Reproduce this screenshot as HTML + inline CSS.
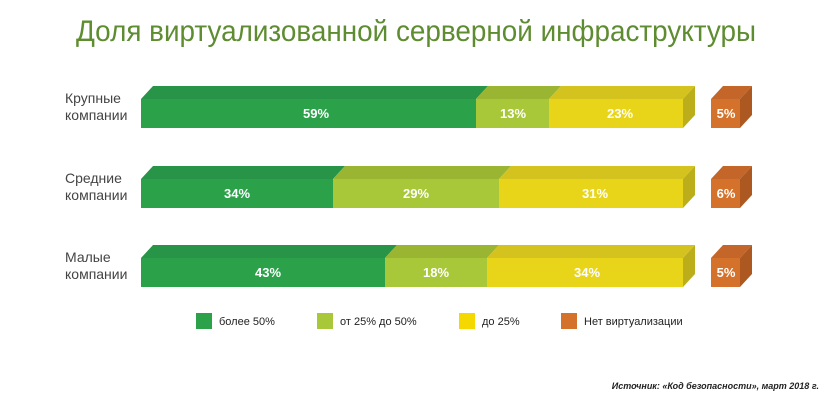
<!DOCTYPE html>
<html><head><meta charset="utf-8"><style>body{margin:0;background:#fff}svg{display:block}</style></head><body>
<svg width="830" height="400" xmlns="http://www.w3.org/2000/svg" font-family="Liberation Sans, sans-serif">
<rect width="830" height="400" fill="#fff"/>
<text x="76" y="41" font-size="30" fill="#5e8c30" textLength="680" lengthAdjust="spacingAndGlyphs">Доля виртуализованной серверной инфраструктуры</text>
<g id="r1">
<!-- tops -->
<polygon points="141,99 153,86 488,86 476,99" fill="#279447"/>
<polygon points="476,99 488,86 561,86 549,99" fill="#99b532"/>
<polygon points="549,99 561,86 695,86 683,99" fill="#d4c31f"/>
<polygon points="683,99 695,86 695,115 683,128" fill="#bcae1b"/>
<rect x="141" y="99" width="335" height="29" fill="#2ba24a"/>
<rect x="476" y="99" width="73" height="29" fill="#a8c83a"/>
<rect x="549" y="99" width="134" height="29" fill="#e8d51a"/>
<polygon points="711,99 723,86 752,86 740,99" fill="#c4662a"/>
<polygon points="740,99 752,86 752,115 740,128" fill="#ad5820"/>
<rect x="711" y="99" width="29" height="29" fill="#d4712a"/>
</g>
<g>
<polygon points="141,179 153,166 345,166 333,179" fill="#279447"/>
<polygon points="333,179 345,166 511,166 499,179" fill="#99b532"/>
<polygon points="499,179 511,166 695,166 683,179" fill="#d4c31f"/>
<polygon points="683,179 695,166 695,195 683,208" fill="#bcae1b"/>
<rect x="141" y="179" width="192" height="29" fill="#2ba24a"/>
<rect x="333" y="179" width="166" height="29" fill="#a8c83a"/>
<rect x="499" y="179" width="184" height="29" fill="#e8d51a"/>
<polygon points="711,179 723,166 752,166 740,179" fill="#c4662a"/>
<polygon points="740,179 752,166 752,195 740,208" fill="#ad5820"/>
<rect x="711" y="179" width="29" height="29" fill="#d4712a"/>
</g>
<g>
<polygon points="141,258 153,245 397,245 385,258" fill="#279447"/>
<polygon points="385,258 397,245 499,245 487,258" fill="#99b532"/>
<polygon points="487,258 499,245 695,245 683,258" fill="#d4c31f"/>
<polygon points="683,258 695,245 695,274 683,287" fill="#bcae1b"/>
<rect x="141" y="258" width="244" height="29" fill="#2ba24a"/>
<rect x="385" y="258" width="102" height="29" fill="#a8c83a"/>
<rect x="487" y="258" width="196" height="29" fill="#e8d51a"/>
<polygon points="711,258 723,245 752,245 740,258" fill="#c4662a"/>
<polygon points="740,258 752,245 752,274 740,287" fill="#ad5820"/>
<rect x="711" y="258" width="29" height="29" fill="#d4712a"/>
</g>
<g fill="#fff" font-weight="bold" font-size="13" text-anchor="middle">
<text x="316" y="118">59%</text><text x="513" y="118">13%</text><text x="620" y="118">23%</text><text x="726" y="118">5%</text>
<text x="237" y="198">34%</text><text x="416" y="198">29%</text><text x="595" y="198">31%</text><text x="726" y="198">6%</text>
<text x="268" y="277">43%</text><text x="436" y="277">18%</text><text x="587" y="277">34%</text><text x="726" y="277">5%</text>
</g>
<g fill="#444" font-size="14">
<text x="65" y="103">Крупные</text><text x="65" y="120">компании</text>
<text x="65" y="183">Средние</text><text x="65" y="200">компании</text>
<text x="65" y="262">Малые</text><text x="65" y="279">компании</text>
</g>
<g font-size="11" fill="#222">
<rect x="196" y="313" width="16" height="16" fill="#2ba24a"/><text x="219" y="325">более 50%</text>
<rect x="317" y="313" width="16" height="16" fill="#a8c83a"/><text x="340" y="325">от 25% до 50%</text>
<rect x="459" y="313" width="16" height="16" fill="#f5d800"/><text x="482" y="325">до 25%</text>
<rect x="561" y="313" width="16" height="16" fill="#d4712a"/><text x="584" y="325">Нет виртуализации</text>
</g>
<text x="819" y="389" font-size="9" font-style="italic" font-weight="bold" fill="#222" text-anchor="end">Источник: «Код безопасности», март 2018 г.</text>
</svg>
</body></html>
